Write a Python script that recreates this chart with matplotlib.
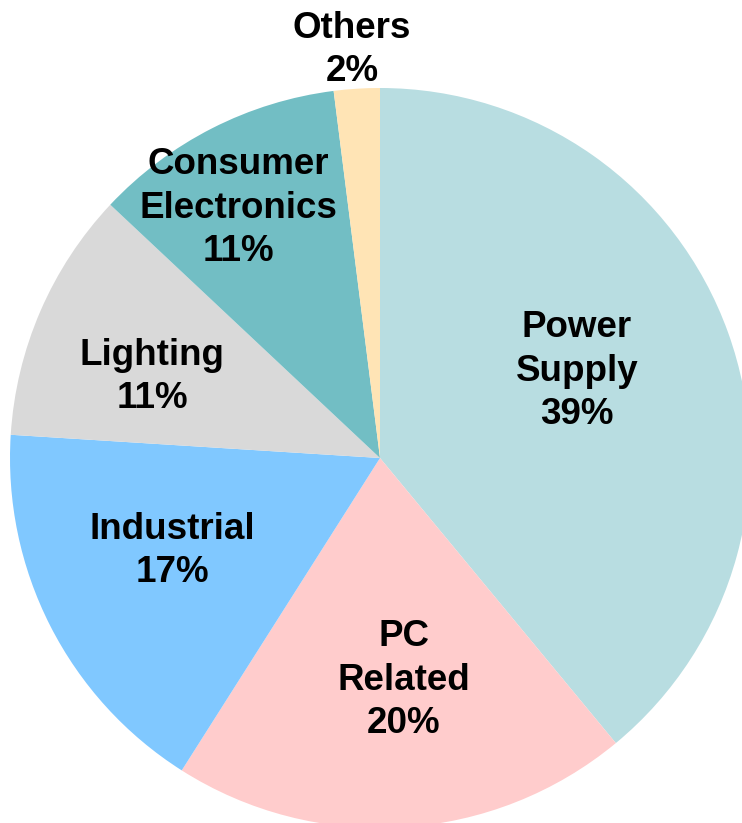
import matplotlib.pyplot as plt

categories = ['Power\nSupply', 'PC\nRelated', 'Industrial', 'Lighting',
              'Consumer\nElectronics', 'Others']
shares = [39, 20, 17, 11, 11, 2]
colors = ['#b8dde1', '#ffcccc', '#80c8ff', '#d9d9d9', '#72bec4', '#ffe4b5']

# label centres in pixel coords (x, y from top)
label_pos = [(577, 371), (404, 680), (172, 551), (152, 377), (238, 208), (352, 50)]

W, H = 742, 823
fig = plt.figure(figsize=(W / 100, H / 100), dpi=100)
ax = fig.add_axes([0, 0, 1, 1])

cx, cy, r = 380, 458, 370
ax.pie(shares, colors=colors, startangle=90, counterclock=False,
       center=(cx, H - cy), radius=r, wedgeprops=dict(linewidth=0))

plt.rcParams['font.family'] = ['Liberation Sans', 'DejaVu Sans']
for name, val, (x, y) in zip(categories, shares, label_pos):
    ax.text(x, H - y, '{}\n{}%'.format(name, val), ha='center', va='center',
            multialignment='center', fontsize=26.5, fontweight='bold',
            family=['Liberation Sans', 'DejaVu Sans'], linespacing=1.3)

ax.set_xlim(0, W)
ax.set_ylim(0, H)
ax.set_aspect('equal')
ax.axis('off')

plt.savefig('out.png', dpi=100)
